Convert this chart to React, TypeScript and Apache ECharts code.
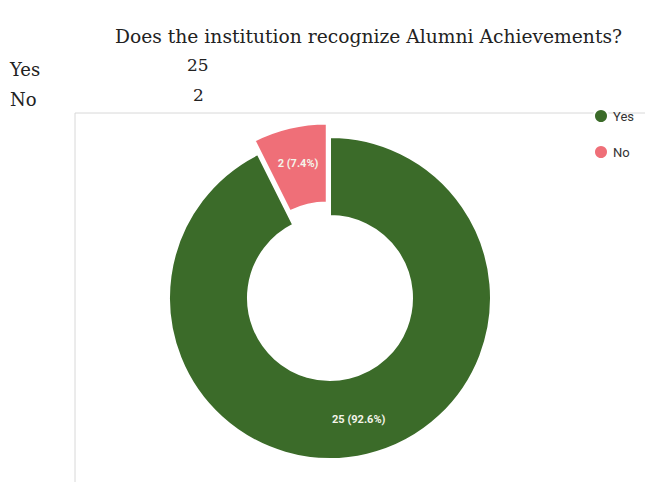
import React, { useEffect, useRef } from "react";
import * as echarts from "echarts";

const titleText = "Does the institution recognize Alumni Achievements?";
const categories = ["Yes", "No"];
const values = [25, 2];
const colors = ["#3b6b29", "#ef6f78"];

export default function App() {
  const ref = useRef<HTMLDivElement>(null);
  useEffect(() => {
    if (!ref.current) return;
    const chart = echarts.init(ref.current, undefined, { renderer: "svg" });
    const serif = "'DejaVu Serif', serif";
    const tableTexts: any[] = [];
    categories.forEach((c, i) => {
      tableTexts.push({
        type: "text",
        left: 10,
        top: 60 + i * 30,
        style: { text: c, font: `18px ${serif}`, fill: "#222" },
      });
      tableTexts.push({
        type: "text",
        left: i === 0 ? 187 : 193,
        top: 56 + i * 30,
        style: { text: String(values[i]), font: `17px ${serif}`, fill: "#222" },
      });
    });
    chart.setOption({
      animation: false,
      backgroundColor: "#ffffff",
      graphic: [
        {
          type: "rect",
          shape: { x: 75, y: 113, width: 600, height: 400 },
          style: { fill: "none", stroke: "#d8d8d8", lineWidth: 1 },
          z: 0,
        },
        {
          type: "text",
          left: 115,
          top: 27,
          style: { text: titleText, font: `18.7px ${serif}`, fill: "#222" },
        },
        ...tableTexts,
      ],
      legend: {
        orient: "vertical",
        left: 588,
        top: 103,
        icon: "circle",
        itemWidth: 14,
        itemHeight: 14,
        itemGap: 20,
        data: categories,
        textStyle: { fontSize: 13, color: "#333", fontFamily: "Roboto, sans-serif" },
        selectedMode: false,
      },
      series: [
        {
          type: "pie",
          center: [330, 298],
          radius: [82, 161],
          startAngle: 90,
          clockwise: true,
          selectedMode: "single",
          selectedOffset: 14,
          avoidLabelOverlap: false,
          percentPrecision: 1,
          itemStyle: { borderColor: "#ffffff", borderWidth: 2 },
          label: {
            show: true,
            position: "inside",
            formatter: "{c} ({d}%)",
            color: "#f4f4ea",
            fontWeight: "bold",
            fontSize: 11,
            fontFamily: "Roboto, sans-serif",
          },
          labelLine: { show: false },
          emphasis: { disabled: true },
          data: categories.map((c, i) => ({
            name: c,
            value: values[i],
            selected: c === "No",
            itemStyle: { color: colors[i] },
          })),
        },
      ],
    });
    return () => chart.dispose();
  }, []);
  return (
    <div
      ref={ref}
      style={{ position: "fixed", left: 0, top: 0, width: 645, height: 482 }}
    />
  );
}
